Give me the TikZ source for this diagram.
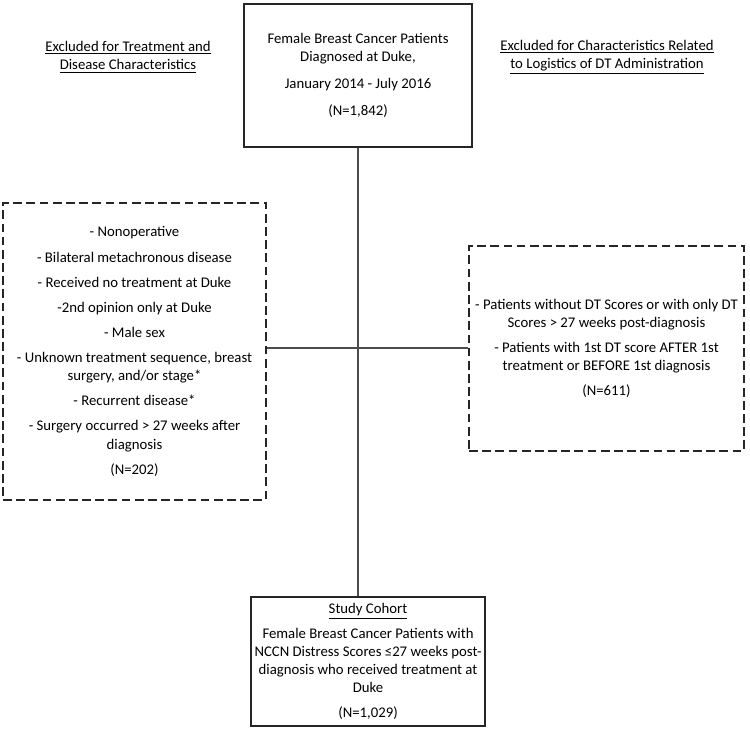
\documentclass[tikz,border=0pt]{standalone}
\usepackage{fontspec}
\setmainfont{Carlito}
\usetikzlibrary{positioning}

\begin{document}
\begin{tikzpicture}[
    x=0.02cm,
    y=-0.02cm,
    font=\fontsize{8.4}{10.3}\selectfont,
    solidbox/.style={
      rectangle,
      draw=black!85,
      line width=0.8pt,
      align=center,
      inner sep=0pt
    },
    dashbox/.style={
      rectangle,
      draw=black!85,
      line width=0.8pt,
      dash pattern=on 5pt off 2.5pt,
      align=center,
      inner sep=0pt
    },
    heading/.style={
      align=center,
      inner sep=0pt
    },
    link/.style={
      draw=black!70,
      line width=0.6pt
    }]

    \useasboundingbox (0,0) rectangle (750,731);

    % all patients
    \node[
    solidbox,
    minimum width=4.56cm,
    minimum height=2.86cm] (allpts) at (358,75.5) {Female Breast Cancer Patients\\Diagnosed at Duke,\\[5pt]January 2014 - July 2016\\[5pt](N=1,842)};

    % headings
    \node[heading] (lefthead) at (128,57) {\underline{Excluded for Treatment and}\\\underline{Disease Characteristics}};
    \node[heading] (righthead) at (607,57) {\underline{Excluded for Characteristics Related}\\\underline{to Logistics of DT Administration}};

    % excluded, treatment and disease
    \node[
    dashbox,
    minimum width=5.26cm,
    minimum height=5.94cm] (leftex) at (134.5,351.5) {- Nonoperative\\[4pt]- Bilateral metachronous disease\\[4pt]- Received no treatment at Duke\\[4pt]-2nd opinion only at Duke\\[4pt]- Male sex\\[4pt]- Unknown treatment sequence, breast\\surgery, and/or stage*\\[4pt]- Recurrent disease*\\[4pt]- Surgery occurred > 27 weeks after\\diagnosis\\[4pt](N=202)};

    % excluded, DT logistics
    \node[
    dashbox,
    minimum width=5.5cm,
    minimum height=4.1cm] (rightex) at (606.5,348.5) {- Patients without DT Scores or with only DT\\Scores > 27 weeks post-diagnosis\\[4pt]- Patients with 1st DT score AFTER 1st\\treatment or BEFORE 1st diagnosis\\[4pt](N=611)};

    % study cohort
    \node[
    solidbox,
    minimum width=4.68cm,
    minimum height=2.58cm] (cohort) at (368,661.5) {\underline{Study Cohort}\\[4pt]Female Breast Cancer Patients with\\NCCN Distress Scores ≤27 weeks post-\\diagnosis who received treatment at\\Duke\\[4pt](N=1,029)};

    % lines
    \coordinate (split) at (358,348);
    \draw[link] (allpts.south) -- (allpts.south |- cohort.north);
    \draw[link] (split) -- (split -| leftex.east);
    \draw[link] (split) -- (split -| rightex.west);
  \end{tikzpicture}
\end{document}
